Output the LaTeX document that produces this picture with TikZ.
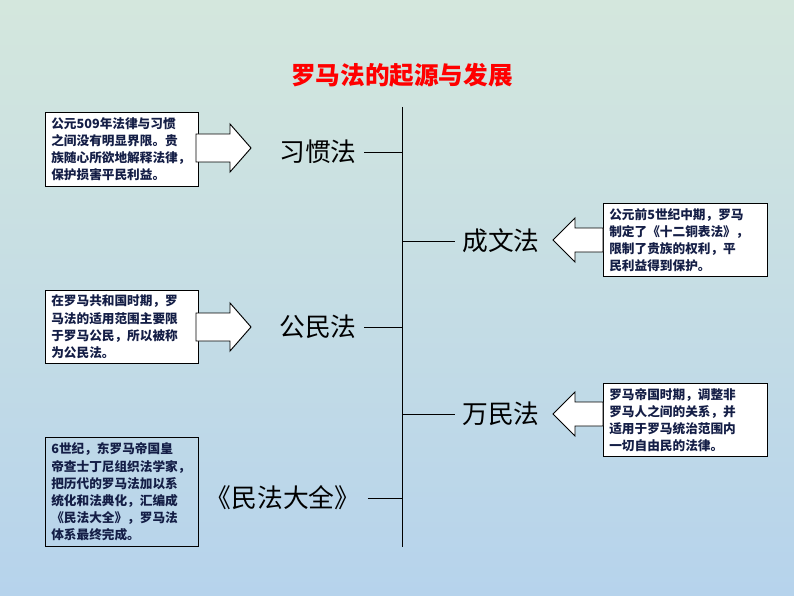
\documentclass[tikz,border=0pt]{standalone}
\usepackage{fontspec}
\setmainfont{Noto Sans CJK SC}
\newfontfamily\cjk{Noto Sans CJK SC}
\usetikzlibrary{positioning}
\definecolor{bgtop}{RGB}{212,231,221}
\definecolor{bgbot}{RGB}{182,211,236}
\definecolor{boxtext}{RGB}{20,30,70}
\begin{document}
\begin{tikzpicture}[x=0.03cm,y=-0.03cm]
        \tikzstyle{note} = [rectangle, draw=black, thick, anchor=north west, align=left, inner xsep=5pt, inner ysep=4pt, text=boxtext, font=\cjk\fontsize{10.8}{14.6}\selectfont\bfseries]
        \tikzstyle{law} = [font=\cjk\fontsize{22}{24}\selectfont]
        \tikzstyle{tick} = [thick]
        \tikzstyle{blockarrow} = [draw=black, thick, fill=white]

                \shade[top color=bgtop, bottom color=bgbot] (0,0) rectangle (794,596);
                \useasboundingbox (0,0) rectangle (794,596);

                \node (title) at (402,75) [text=red, font=\cjk\fontsize{21}{24}\selectfont\bfseries] {罗马法的起源与发展};

                \coordinate (top) at (402,107);
                \coordinate (bot) at (402,547);
                \draw[thick] (top) -- (bot);

                % left side
                \node (n1) at (45,112) [note, fill=white, text width=141*0.03cm, minimum height=74*0.03cm] {公元509年法律与习惯\\之间没有明显界限。贵\\族随心所欲地解释法律，\\保护损害平民利益。};
                \node (l1) at (318,152) [law] {习惯法};
                \draw[tick] (l1.east) ++(3pt,0) -- (top |- l1.east);

                \node (n3) at (45,290) [note, fill=white, text width=141*0.03cm, minimum height=72*0.03cm] {在罗马共和国时期，罗\\马法的适用范围主要限\\于罗马公民，所以被称\\为公民法。};
                \node (l3) at (318,327) [law] {公民法};
                \draw[tick] (l3.east) ++(3pt,0) -- (top |- l3.east);

                \node (n5) at (45,437) [note, text width=141*0.03cm, minimum height=109*0.03cm] {6世纪，东罗马帝国皇\\帝查士丁尼组织法学家，\\把历代的罗马法加以系\\统化和法典化，汇编成\\《民法大全》，罗马法\\体系最终完成。};
                \node (l5) at (283,498) [law] {《民法大全》};
                \draw[tick] (l5.east) ++(3pt,0) -- (top |- l5.east);

                % right side
                \node (n2) at (603,203) [note, fill=white, text width=152*0.03cm, minimum height=73*0.03cm] {公元前5世纪中期，罗马\\制定了《十二铜表法》，\\限制了贵族的权利，平\\民利益得到保护。};
                \node (l2) at (501,241) [law] {成文法};
                \draw[tick] (l2.west) ++(-3pt,0) -- (top |- l2.west);

                \node (n4) at (603,383) [note, fill=white, text width=152*0.03cm, minimum height=73*0.03cm] {罗马帝国时期，调整非\\罗马人之间的关系，并\\适用于罗马统治范围内\\一切自由民的法律。};
                \node (l4) at (501,414) [law] {万民法};
                \draw[tick] (l4.west) ++(-3pt,0) -- (top |- l4.west);

                % block arrows
                \foreach \y in {148,327} {
                    \draw[blockarrow] (196,\y-14) -- (230,\y-14) -- (230,\y-24) -- (251,\y) -- (230,\y+24) -- (230,\y+14) -- (196,\y+14) -- cycle;
                }
                \foreach \y in {240,414} {
                    \draw[blockarrow] (603,\y-12) -- (575,\y-12) -- (575,\y-22) -- (553,\y) -- (575,\y+22) -- (575,\y+12) -- (603,\y+12) -- cycle;
                }
    \end{tikzpicture}
\end{document}
